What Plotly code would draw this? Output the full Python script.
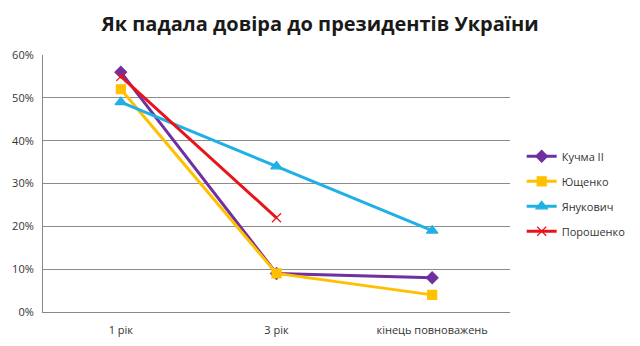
import plotly.graph_objects as go

categories = ["1 рік", "3 рік", "кінець повноважень"]
kuchma = [0.56, 0.09, 0.08]
yushchenko = [0.52, 0.09, 0.04]
yanukovych = [0.49, 0.34, 0.19]
poroshenko = [0.55, 0.22, None]

series = [
    ("Кучма II", kuchma, "#7030A0", "diamond", 9),
    ("Ющенко", yushchenko, "#FFC000", "square", 9),
    ("Янукович", yanukovych, "#1FB0E6", "triangle-up", 10),
    ("Порошенко", poroshenko, "#E8141B", "x-thin", 9),
]

fig = go.Figure()
for name, vals, color, symbol, size in series:
    fig.add_trace(go.Scatter(
        x=categories, y=vals, name=name, mode="lines+markers",
        legendgroup=name,
        line=dict(color=color, width=3),
        marker=dict(symbol=symbol, size=size, color=color,
                    line=dict(color=color, width=1.2)),
    ))

fig.update_layout(
    width=640, height=346,
    margin=dict(l=43, r=130, t=55, b=34, autoexpand=False),
    paper_bgcolor="white", plot_bgcolor="white",
    title=dict(text="<b>Як падала довіра до президентів України</b>",
               x=0.5, xanchor="center", y=0.93, yanchor="middle",
               font=dict(family="Open Sans", size=20, color="#1a1a1a")),
    font=dict(family="Open Sans", size=11, color="#333333"),
    legend=dict(x=1.025, y=0.46, xanchor="left", yanchor="middle",
                font=dict(size=11, color="#333333"),
                tracegroupgap=6, itemwidth=30),
    showlegend=True,
)
fig.update_xaxes(type="category", range=[-0.5, 2.5], automargin=False,
                 showgrid=False, showline=True, linecolor="#888888",
                 linewidth=1, ticks="", ticklen=0, ticklabelstandoff=8,
                 tickfont=dict(size=11))
fig.update_yaxes(range=[0, 0.6], dtick=0.1, tickformat=".0%",
                 automargin=False,
                 showgrid=True, gridcolor="#8c8c8c", gridwidth=1,
                 showline=True, linecolor="#888888", zeroline=False,
                 ticks="", ticklabelstandoff=6, tickfont=dict(size=11))

fig.write_html("out.html")
